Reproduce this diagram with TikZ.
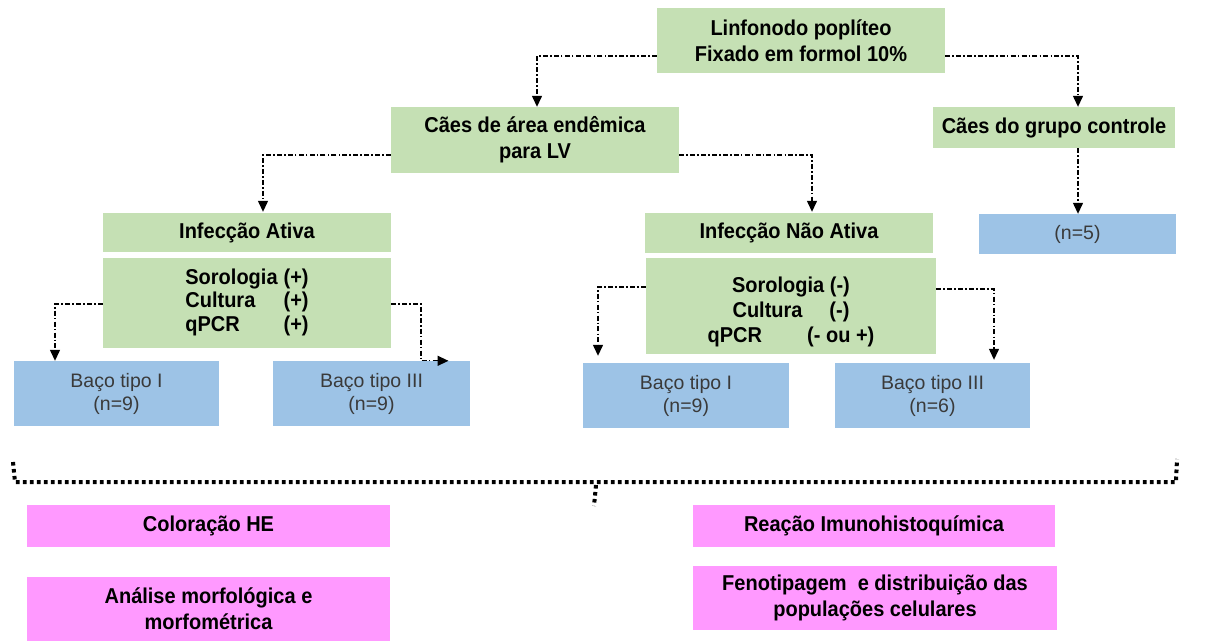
\documentclass[tikz,border=0pt]{standalone}
\usepackage{fontspec}
\setmainfont{Liberation Sans}
\newfontfamily\narrowsans[FakeStretch=0.93]{Liberation Sans}
\usetikzlibrary{arrows.meta}
\definecolor{gfill}{HTML}{C5E0B4}
\definecolor{bfill}{HTML}{9DC3E6}
\definecolor{pfill}{HTML}{FF99FF}
\definecolor{btext}{HTML}{3A3A3A}
\tikzset{
  greenbox/.style={rectangle, fill=gfill, inner sep=0pt, align=center,
    font=\narrowsans\fontsize{21.5}{26}\selectfont\bfseries},
  bluebox/.style={rectangle, fill=bfill, inner sep=0pt, align=center, text=btext,
    font=\fontsize{19.5}{23}\selectfont},
  pinkbox/.style={rectangle, fill=pfill, inner sep=0pt, align=center,
    font=\narrowsans\fontsize{21.5}{26}\selectfont\bfseries},
  conn/.style={line width=1.3pt, dash pattern=on 5pt off 2.2pt on 1.5pt off 2.2pt,
    -{Triangle[length=11pt,width=10pt]}},
  brace/.style={line width=4pt, dash pattern=on 3.6pt off 3.4pt}
}
\begin{document}
\begin{tikzpicture}[x=1pt,y=-1pt]
\useasboundingbox (0,0) rectangle (1216,641);
% level 0
\node[greenbox, minimum width=288pt, minimum height=65pt] (lin) at (801,40.5)
  {Linfonodo poplíteo\\Fixado em formol 10\%};
% level 1
\node[greenbox, minimum width=288pt, minimum height=66pt] (endem) at (535,140)
  {Cães de área endêmica\\para LV};
\node[greenbox, minimum width=242pt, minimum height=41pt] (ctrl) at (1054,127.5)
  {Cães do grupo controle};
% level 2
\node[greenbox, minimum width=288pt, minimum height=39pt] (infA) at (247,232.5)
  {Infecção Ativa};
\node[greenbox, minimum width=288pt, minimum height=90pt] (sorA) at (247,303)
  {\fontsize{21.5}{23.5}\selectfont\begin{tabular}{@{}l@{\hspace{6pt}}l@{}}Sorologia & (+)\\ Cultura & (+)\\ qPCR & (+)\end{tabular}};
\node[greenbox, minimum width=288pt, minimum height=40pt] (infN) at (789,233)
  {Infecção Não Ativa};
\node[greenbox, minimum width=290pt, minimum height=96pt] (sorN) at (791,306) {};
\node[greenbox, font=\narrowsans\fontsize{21.5}{25}\selectfont\bfseries] (sorNt) at (791,312)
  {Sorologia (-)\\Cultura\hspace{1.25em}(-)\\qPCR\hspace{2.1em}(- ou +)};
\node[bluebox, minimum width=197pt, minimum height=40pt] (n5) at (1077.5,234) {(n=5)};
% level 3
\node[bluebox, minimum width=205pt, minimum height=65pt] (b1A) at (116.5,393.5)
  {Baço tipo I\\(n=9)};
\node[bluebox, minimum width=197pt, minimum height=65pt] (b3A) at (371.5,393.5)
  {Baço tipo III\\(n=9)};
\node[bluebox, minimum width=206pt, minimum height=65pt] (b1N) at (686,395.5)
  {Baço tipo I\\(n=9)};
\node[bluebox, minimum width=195pt, minimum height=65pt] (b3N) at (932.5,395.5)
  {Baço tipo III\\(n=6)};
% bottom
\node[pinkbox, minimum width=363pt, minimum height=42pt] (he) at (208.5,526)
  {Coloração HE};
\node[pinkbox, minimum width=362pt, minimum height=42pt] (ihq) at (874,526)
  {Reação Imunohistoquímica};
\node[pinkbox, minimum width=363pt, minimum height=64pt] (am) at (208.5,609)
  {Análise morfológica e\\morfométrica};
\node[pinkbox, minimum width=364pt, minimum height=64pt] (feno) at (875,598)
  {Fenotipagem\ \ e distribuição das\\populações celulares};
% connectors
\draw[conn] ([yshift=-15.5pt]lin.west) -| ([xshift=2pt]endem.north);
\draw[conn] ([yshift=-15.5pt]lin.east) -| ([xshift=24pt]ctrl.north);
\draw[conn] ([yshift=-15pt]endem.west) -| ([xshift=16pt,yshift=1pt]infA.north);
\draw[conn] ([yshift=-15pt]endem.east) -| ([xshift=23pt,yshift=1pt]infN.north);
\draw[conn] ([xshift=24pt]ctrl.south) -- ([xshift=24pt]ctrl.south |- n5.north);
\draw[conn] ([yshift=-1pt]sorA.west) -| ([xshift=-61.5pt]b1A.north);
\coordinate (kA) at ([xshift=49.5pt]b3A.north);
\coordinate (tA) at ([xshift=77pt]b3A.north);
\draw[conn] ([yshift=-1pt]sorA.east) -| (kA) -- (tA);
\draw[conn, shorten >=7pt] ([yshift=19pt]sorN.west) -| ([xshift=-88pt]b1N.north);
\draw[conn, shorten >=3pt] ([yshift=17pt]sorN.east) -| ([xshift=61.5pt]b3N.north);
% dotted brace
\draw[brace] (13,462) -- (15,482) -- (1176,482) -- (1177,459);
\draw[brace] (596,485) -- (594,506);
\end{tikzpicture}
\end{document}
